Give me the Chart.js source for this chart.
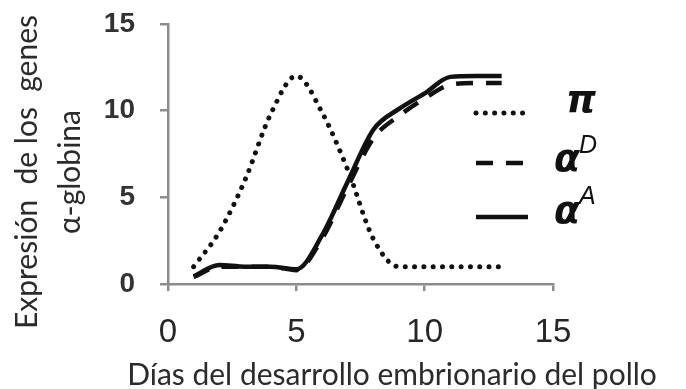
<!DOCTYPE html>
<html>
<head>
<meta charset="utf-8">
<script src="https://cdn.jsdelivr.net/npm/chart.js@4/dist/chart.umd.min.js"></script>
<style>
  html, body { margin: 0; padding: 0; background: #ffffff; }
  #wrap { width: 686px; height: 389px; position: relative; }
</style>
</head>
<body>
<div id="wrap"><canvas id="chart" width="686" height="389"></canvas></div>
<script>
// Days of embryonic development
const days = [1, 2, 3, 4, 5, 6, 7, 8, 9, 10, 11, 12, 13];

// Relative expression of each alpha-globin gene
const piExpr     = [1.0, 3.0, 6.0, 9.8, 12.0, 9.9, 6.6, 2.6, 1.0, 1.0, 1.0, 1.0, 1.0];
const alphaDExpr = [0.4, 1.0, 1.0, 1.0, 0.8, 2.6, 5.6, 8.4, 9.7, 10.7, 11.5, 11.6, 11.6];
const alphaAExpr = [0.45, 1.1, 1.0, 1.0, 0.85, 2.8, 5.9, 8.9, 10.1, 11.0, 11.95, 12.0, 12.0];

// Legend symbols: base glyph + superscript
const seriesSymbols = [["π", ""], ["α", "D"], ["α", "A"]];

// Axis ticks and titles
const xTicks = [0, 5, 10, 15];
const yTicks = [0, 5, 10, 15];
const xTitle = "Días del desarrollo embrionario del pollo";
const yTitle = ["Expresión  de los  genes", "α-globina"];

const toPoints = (vals) => vals.map((v, i) => ({ x: days[i], y: v }));

const AXIS_GREY = "#8c8c8c";
const TITLE_FONT = "Lato, 'Open Sans', sans-serif";

// Draws the axis titles and the in-plot legend
const annotations = {
  id: "annotations",
  afterDraw(chart) {
    const ctx = chart.ctx;
    ctx.save();
    ctx.fillStyle = "#2b2b2b";
    ctx.textAlign = "center";
    ctx.textBaseline = "middle";
    ctx.font = "30px " + TITLE_FONT;
    ctx.fillText(xTitle, 392, 375);

    const yCenters = [27, 70];
    yTitle.forEach((line, i) => {
      ctx.save();
      ctx.translate(yCenters[i], 172);
      ctx.rotate(-Math.PI / 2);
      ctx.fillText(line, 0, 0);
      ctx.restore();
    });

    // Legend: line samples and symbols
    const rows = [
      { line: 113, base: 112, sup: 0, bx: 566 },
      { line: 163, base: 171, sup: 153, bx: 554 },
      { line: 217, base: 223, sup: 204, bx: 554 }
    ];
    chart.data.datasets.forEach((ds, i) => {
      const r = rows[i];
      ctx.save();
      ctx.strokeStyle = ds.borderColor;
      ctx.lineWidth = ds.borderWidth;
      ctx.lineCap = ds.borderCapStyle || "butt";
      ctx.setLineDash(ds.borderDash || []);
      ctx.beginPath();
      ctx.moveTo(476, r.line);
      ctx.lineTo(528, r.line);
      ctx.stroke();
      ctx.restore();

      const [base, sup] = seriesSymbols[i];
      ctx.fillStyle = "#111111";
      ctx.textAlign = "left";
      ctx.textBaseline = "alphabetic";
      ctx.font = "italic bold 38px 'DejaVu Sans', sans-serif";
      ctx.fillText(base, r.bx, r.base);
      if (sup) {
        const w = ctx.measureText(base).width;
        ctx.font = "italic 25px 'Liberation Sans', Arial, sans-serif";
        ctx.fillText(sup, r.bx + w - 1, r.sup);
      }
    });
    ctx.restore();
  }
};

const ctx = document.getElementById("chart").getContext("2d");
new Chart(ctx, {
  type: "line",
  data: {
    datasets: [
      {
        label: "π",
        data: toPoints(piExpr),
        borderColor: "#111111",
        borderWidth: 5,
        borderDash: [0.01, 9.3],
        borderCapStyle: "round",
        pointRadius: 0,
        cubicInterpolationMode: "monotone",
        fill: false
      },
      {
        label: "αD",
        data: toPoints(alphaDExpr),
        borderColor: "#111111",
        borderWidth: 4.5,
        borderDash: [17, 13],
        pointRadius: 0,
        cubicInterpolationMode: "monotone",
        fill: false
      },
      {
        label: "αA",
        data: toPoints(alphaAExpr),
        borderColor: "#111111",
        borderWidth: 4.5,
        pointRadius: 0,
        cubicInterpolationMode: "monotone",
        fill: false
      }
    ]
  },
  options: {
    responsive: false,
    animation: false,
    events: [],
    layout: { padding: { top: 24, right: 133, bottom: 0, left: 0 } },
    plugins: {
      legend: { display: false },
      tooltip: { enabled: false },
      title: { display: false }
    },
    scales: {
      x: {
        type: "linear",
        min: 0,
        max: 15,
        afterFit: (s) => { s.height = 105; s.paddingLeft = 0; s.paddingRight = 0; },
        afterBuildTicks: (s) => { s.ticks = xTicks.map((v) => ({ value: v })); },
        border: { display: true, color: AXIS_GREY, width: 2.5 },
        grid: { drawOnChartArea: false, drawTicks: true, tickLength: 7, color: AXIS_GREY, lineWidth: 2.5 },
        ticks: {
          padding: 22,
          color: "#262626",
          maxRotation: 0,
          font: { family: "'Liberation Sans', Arial, sans-serif", size: 33 }
        }
      },
      y: {
        type: "linear",
        min: 0,
        max: 15,
        afterFit: (s) => { s.width = 168; s.paddingTop = 0; s.paddingBottom = 0; },
        afterBuildTicks: (s) => { s.ticks = yTicks.map((v) => ({ value: v })); },
        border: { display: true, color: AXIS_GREY, width: 2.5 },
        grid: { drawOnChartArea: false, drawTicks: true, tickLength: 8, color: AXIS_GREY, lineWidth: 2.5 },
        ticks: {
          padding: 25,
          color: "#333333",
          font: { family: "'Liberation Sans', Arial, sans-serif", size: 28, weight: "bold" }
        }
      }
    }
  },
  plugins: [annotations]
});
</script>
</body>
</html>
